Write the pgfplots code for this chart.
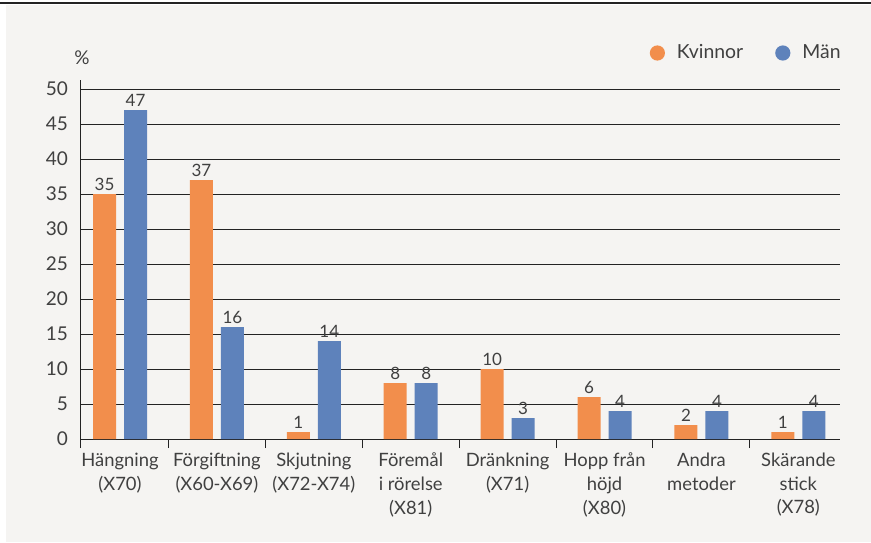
\documentclass[border=0pt]{standalone}
\usepackage{fontspec}
\setmainfont{Lato}
\usepackage{pgfplots}
\pgfplotsset{compat=1.18}
\definecolor{bgc}{RGB}{245,244,242}
\definecolor{orc}{RGB}{242,142,76}
\definecolor{blc}{RGB}{94,130,187}
\definecolor{txc}{RGB}{64,64,64}
\definecolor{grc}{RGB}{35,35,35}
\begin{document}
\begin{tikzpicture}
\useasboundingbox (0,0) rectangle (435.5pt,271pt);
\fill[bgc] (3pt,0) rectangle (435.5pt,268.5pt);
\draw[grc, line width=0.75pt] (0,269.6pt) -- (435.5pt,269.6pt);
\begin{axis}[
  at={(40pt,51.5pt)}, anchor=south west,
  scale only axis, width=380pt, height=175pt,
  xmin=-0.413, xmax=7.43, ymin=0, ymax=50,
  ybar=4pt, bar width=11.5pt,
  clip=false,
  axis line style={draw=none},
  ymajorgrids, grid style={grc, line width=0.5pt},
  ytick={0,5,...,50},
  ytick style={draw=none},
  major tick length=0pt,
  xtick={0,...,7},
  xticklabels={{Hängning\\(X70)},{Förgiftning\\(X60-X69)},{Skjutning\\(X72-X74)},{Föremål\\i rörelse\\(X81)},{Dränkning\\(X71)},{Hopp från\\höjd\\(X80)},{Andra\\metoder},{Skärande\\stick\\(X78)}},
  xtick pos=bottom, tick align=outside,
  extra x ticks={0.5,1.5,2.5,3.5,4.5,5.5,6.5},
  extra x tick labels={},
  extra x tick style={major tick length=4.5pt, tick style={grc, line width=0.5pt}},
  xticklabel style={align=center, font=\fontsize{9.2}{11.8}\selectfont, text=txc, yshift=-3.5pt},
  yticklabel style={font=\fontsize{9.5}{11}\selectfont, text=txc, xshift=-2.5pt},
  /pgf/number format/assume math mode=true,
  nodes near coords,
  every node near coord/.append style={font=\fontsize{8.5}{10}\selectfont, text=txc, inner sep=1.5pt},
  legend style={at={(1,1)}, anchor=east, yshift=18pt, xshift=2.5pt, draw=none, fill=none, inner sep=0pt,
    font=\fontsize{9.7}{11}\selectfont, text=txc,
    /tikz/every odd column/.append style={column sep=4pt},
    /tikz/every even column/.append style={column sep=14pt}},
  legend columns=2,
  legend image code/.code={\fill[#1] (0pt,0pt) circle (3.8pt);},
]
\addplot[fill=orc, draw=none] coordinates {(0,35) (1,37) (2,1) (3,8) (4,10) (5,6) (6,2) (7,1)};
\addlegendentry{Kvinnor}
\addplot[fill=blc, draw=none] coordinates {(0,47) (1,16) (2,14) (3,8) (4,3) (5,4) (6,4) (7,4)};
\addlegendentry{Män}
\draw[grc, line width=0.5pt] (rel axis cs:0,-0.026) -- (rel axis cs:0,1.026);
\node[text=txc, font=\fontsize{9.5}{11}\selectfont, yshift=15.5pt, xshift=1pt] at (rel axis cs:0,1) {\%};
\end{axis}
\end{tikzpicture}
\end{document}
